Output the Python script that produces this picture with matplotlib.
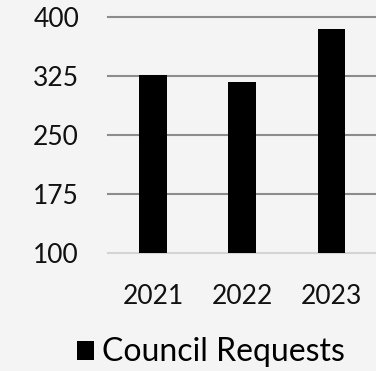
import matplotlib
matplotlib.use("Agg")
import matplotlib.pyplot as plt
from matplotlib.ticker import FixedLocator

# data
years = ["2021", "2022", "2023"]
requests = [326, 318, 385]
y_ticks = [100, 175, 250, 325, 400]
series_name = "Council Requests"

bg = "#f4f4f4"
plt.rcParams["font.family"] = ["Lato", "DejaVu Sans"]

fig = plt.figure(figsize=(3.76, 3.71), dpi=100, facecolor=bg)
ax = fig.add_axes([0.288, 0.318, 0.712, 0.636])
ax.set_facecolor(bg)

ax.bar(years, requests, width=0.31, color="black", label=series_name, zorder=3)

ax.set_xlim(-0.5, 2.5)
ax.set_ylim(100, 400)
ax.yaxis.set_major_locator(FixedLocator(y_ticks))
ax.grid(axis="y", color="#8c8c8c", linewidth=1.5, zorder=0, clip_on=False)
ax.yaxis.get_gridlines()[0].set_color("#d4d4d4")

for s in ax.spines.values():
    s.set_visible(False)
ax.tick_params(axis="both", length=0, labelsize=19, labelcolor="#111111")
ax.tick_params(axis="y", pad=21)
ax.tick_params(axis="x", pad=22)

fig.legend(loc="center", bbox_to_anchor=(0.561, 0.05), frameon=False,
           fontsize=23, handlelength=0.55, handleheight=0.55, handletextpad=0.25)

fig.savefig("out.png", dpi=100, facecolor=bg)
